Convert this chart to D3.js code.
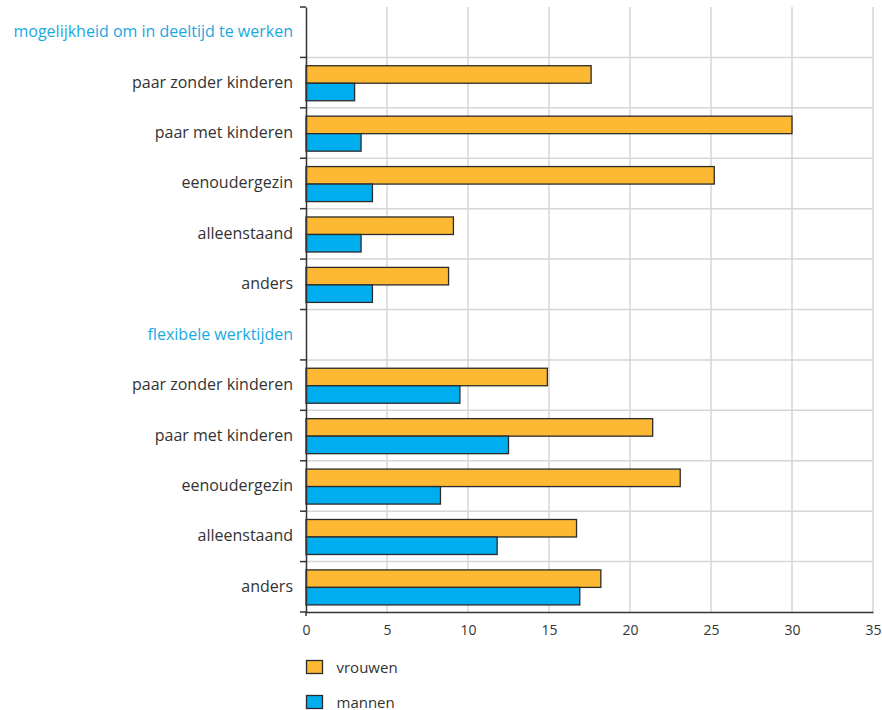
<!DOCTYPE html>
<html><head><meta charset="utf-8">
<script src="https://cdn.jsdelivr.net/npm/d3@7"></script>
<style>body{margin:0;background:#fff;} svg{display:block;}</style>
</head><body>
<svg id="chart" width="882" height="710"></svg>
<script>
const groups = ["mogelijkheid om in deeltijd te werken", "flexibele werktijden"];
const categories = ["paar zonder kinderen", "paar met kinderen", "eenoudergezin", "alleenstaand", "anders"];
const vrouwenDeeltijd = [17.6, 30.0, 25.2, 9.1, 8.8];
const mannenDeeltijd = [3.0, 3.4, 4.1, 3.4, 4.1];
const vrouwenFlexibel = [14.9, 21.4, 23.1, 16.7, 18.2];
const mannenFlexibel = [9.5, 12.5, 8.3, 11.8, 16.9];
const seriesNames = ["vrouwen", "mannen"];
const colors = ["#fdb933", "#00aeef"];
const xTicks = [0, 5, 10, 15, 20, 25, 30, 35];

const rows = [];
[[vrouwenDeeltijd, mannenDeeltijd], [vrouwenFlexibel, mannenFlexibel]].forEach((pair, gi) => {
  rows.push({id: "h" + gi, label: groups[gi], header: true});
  categories.forEach((c, i) => rows.push({id: gi + "-" + i, label: c, header: false, values: [pair[0][i], pair[1][i]]}));
});

const svg = d3.select("#chart");
const m = {left: 306, right: 873, top: 7, bottom: 612};
const font = "'Open Sans', sans-serif";

const x = d3.scaleLinear().domain([0, 35]).range([m.left, m.right]);
const y = d3.scaleBand().domain(rows.map(r => r.id)).range([m.top, m.bottom]);
const inner = d3.scaleBand().domain(seriesNames).range([0, y.bandwidth()]).paddingOuter(0.44).paddingInner(0).align(0.54);

// grid
const gridColor = "#d6d6d6";
svg.append("g").selectAll("line").data(xTicks.slice(1)).join("line")
  .attr("x1", d => x(d)).attr("x2", d => x(d)).attr("y1", m.top).attr("y2", m.bottom)
  .attr("stroke", gridColor).attr("stroke-width", 1.5);
svg.append("g").selectAll("line").data(rows.slice(1)).join("line")
  .attr("x1", m.left).attr("x2", m.right).attr("y1", d => y(d.id)).attr("y2", d => y(d.id))
  .attr("stroke", gridColor).attr("stroke-width", 1.5);

// bars
const bars = svg.append("g").selectAll("g").data(rows.filter(r => !r.header)).join("g")
  .attr("transform", d => `translate(0,${y(d.id)})`);
bars.selectAll("rect").data(d => d.values.map((v, i) => ({v, s: seriesNames[i], i}))).join("rect")
  .attr("x", x(0)).attr("y", d => inner(d.s))
  .attr("width", d => x(d.v) - x(0)).attr("height", inner.bandwidth())
  .attr("fill", d => colors[d.i]).attr("stroke", "#2b2b2b").attr("stroke-width", 1.3);

// y axis
const yAxis = d3.axisLeft(y).tickSizeInner(0).tickSizeOuter(0).tickFormat("");
const ya = svg.append("g").attr("transform", `translate(${m.left},0)`).call(yAxis);
ya.select(".domain").attr("stroke", "#333").attr("stroke-width", 1.5);
const bounds = rows.map(r => y(r.id)).concat([m.bottom]);
svg.append("g").selectAll("line").data(bounds).join("line")
  .attr("x1", m.left - 6).attr("x2", m.left).attr("y1", d => d).attr("y2", d => d)
  .attr("stroke", "#333").attr("stroke-width", 1.5);
svg.append("line").attr("x1", m.left).attr("x2", m.left).attr("y1", m.bottom).attr("y2", m.bottom + 4)
  .attr("stroke", "#333").attr("stroke-width", 1.5);

svg.append("g").selectAll("text").data(rows).join("text")
  .attr("x", m.left - 13).attr("y", d => y(d.id) + y.bandwidth() / 2 + 5)
  .attr("text-anchor", "end").attr("font-family", font).attr("font-size", 16)
  .attr("fill", d => d.header ? "#1aa8e0" : "#333").text(d => d.label);

// x axis
const xAxis = d3.axisBottom(x).tickValues(xTicks).tickSize(0).tickPadding(13);
const xa = svg.append("g").attr("transform", `translate(0,${m.bottom})`).call(xAxis);
xa.select(".domain").attr("stroke", "#333").attr("stroke-width", 1.5);
xa.selectAll("text").attr("font-family", font).attr("font-size", 14).attr("fill", "#333");

// legend
const lg = svg.append("g").selectAll("g").data(seriesNames).join("g")
  .attr("transform", (d, i) => `translate(306.5,${660.5 + i * 35})`);
lg.append("rect").attr("width", 16).attr("height", 13)
  .attr("fill", (d, i) => colors[i]).attr("stroke", "#2b2b2b").attr("stroke-width", 1.3);
lg.append("text").attr("x", 30).attr("y", 12).attr("font-family", font).attr("font-size", 15)
  .attr("fill", "#333").text(d => d);
</script>
</body></html>
